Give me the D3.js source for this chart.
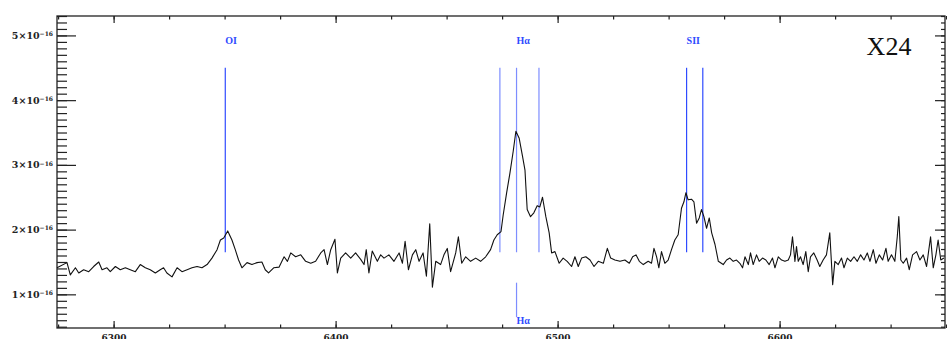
<!DOCTYPE html>
<html>
<head>
<meta charset="utf-8">
<script src="https://cdn.jsdelivr.net/npm/d3@7/dist/d3.min.js"></script>
<style>
  body { margin: 0; background: #fff; }
  svg { display: block; }
  .yLab { font-family: 'DejaVu Serif', serif; font-size: 9.5px; font-weight: bold; fill: #222; }
  .xAxis text { font-family: 'DejaVu Serif', serif; font-size: 9px; font-weight: bold; fill: #222; }
  .lineLabel { font-family: 'Liberation Serif', serif; font-size: 10px; font-weight: bold; }
  .objLabel { font-family: 'Liberation Serif', 'Times New Roman', serif; font-size: 26px; fill: #111; }
</style>
</head>
<body>
<div id="spectrum-chart"></div>
<script>
/* global d3 */

// wavelength (A), flux (units of 1e-16)
const spectrum = [
  [6274.5, 1.41], [6279.0, 1.49], [6280.5, 1.30], [6282.8, 1.41], [6284.3, 1.33], [6286.5, 1.38],
  [6288.8, 1.35], [6291.0, 1.43], [6293.3, 1.50], [6294.8, 1.38], [6297.0, 1.41], [6298.5, 1.35],
  [6300.8, 1.43], [6303.0, 1.38], [6305.3, 1.41], [6307.5, 1.38], [6309.8, 1.35], [6312.0, 1.46],
  [6314.3, 1.41], [6316.5, 1.38], [6318.8, 1.33], [6321.0, 1.38], [6322.5, 1.41], [6324.0, 1.33],
  [6326.3, 1.27], [6328.6, 1.41], [6330.8, 1.35], [6333.1, 1.38], [6335.3, 1.41], [6337.6, 1.43],
  [6339.8, 1.41], [6342.1, 1.46], [6344.3, 1.56], [6346.6, 1.69], [6348.1, 1.84], [6349.6, 1.87],
  [6351.4, 1.98], [6353.3, 1.84], [6354.8, 1.69], [6356.3, 1.53], [6357.8, 1.41], [6360.1, 1.49],
  [6362.3, 1.46], [6364.6, 1.49], [6366.8, 1.50], [6368.3, 1.38], [6369.8, 1.33], [6372.1, 1.41],
  [6374.5, 1.42], [6376.8, 1.58], [6378.3, 1.51], [6379.8, 1.64], [6382.0, 1.58], [6384.3, 1.61],
  [6386.5, 1.51], [6388.8, 1.48], [6391.0, 1.51], [6393.3, 1.64], [6394.8, 1.69], [6396.3, 1.46],
  [6397.8, 1.69], [6399.7, 1.85], [6400.8, 1.33], [6402.3, 1.56], [6404.5, 1.64], [6406.8, 1.56],
  [6409.0, 1.64], [6411.3, 1.54], [6412.8, 1.46], [6413.8, 1.69], [6415.0, 1.33], [6416.5, 1.67],
  [6418.8, 1.51], [6420.3, 1.61], [6421.8, 1.56], [6424.0, 1.61], [6426.3, 1.51], [6428.6, 1.64],
  [6430.1, 1.48], [6431.3, 1.82], [6432.8, 1.38], [6434.6, 1.61], [6436.1, 1.69], [6437.6, 1.51],
  [6439.4, 1.64], [6440.9, 1.28], [6442.4, 2.09], [6443.6, 1.11], [6445.1, 1.51], [6447.3, 1.46],
  [6448.8, 1.61], [6450.3, 1.71], [6451.8, 1.35], [6454.1, 1.64], [6455.3, 1.89], [6456.8, 1.48],
  [6458.6, 1.58], [6460.8, 1.51], [6463.1, 1.56], [6465.3, 1.51], [6467.6, 1.58], [6469.8, 1.69],
  [6471.3, 1.84], [6472.8, 1.92], [6474.5, 1.97], [6475.5, 2.23], [6477.0, 2.56], [6478.5, 2.87],
  [6480.0, 3.21], [6481.2, 3.52], [6482.7, 3.41], [6484.2, 3.13], [6485.3, 2.92], [6485.7, 2.67],
  [6486.3, 2.31], [6487.8, 2.20], [6489.3, 2.26], [6490.8, 2.37], [6492.0, 2.35], [6493.2, 2.50],
  [6494.7, 2.20], [6496.2, 1.95], [6497.3, 1.64], [6498.8, 1.66], [6500.7, 1.48], [6502.5, 1.56],
  [6504.3, 1.51], [6506.3, 1.43], [6507.8, 1.58], [6509.3, 1.43], [6510.8, 1.56], [6512.7, 1.58],
  [6514.6, 1.53], [6516.4, 1.43], [6518.3, 1.51], [6520.6, 1.48], [6522.4, 1.71], [6523.9, 1.56],
  [6525.8, 1.53], [6528.1, 1.51], [6530.3, 1.53], [6532.3, 1.48], [6533.8, 1.58], [6535.3, 1.61],
  [6536.8, 1.51], [6538.6, 1.46], [6540.8, 1.51], [6542.3, 1.48], [6543.4, 1.71], [6544.6, 1.58],
  [6545.6, 1.41], [6546.8, 1.66], [6548.3, 1.48], [6549.8, 1.53], [6551.3, 1.69], [6552.8, 1.84],
  [6554.3, 1.92], [6555.8, 2.33], [6556.9, 2.43], [6557.8, 2.57], [6558.8, 2.46], [6560.3, 2.47],
  [6561.4, 2.43], [6562.6, 2.10], [6563.8, 2.18], [6564.8, 2.31], [6565.9, 2.20], [6567.1, 2.02],
  [6568.3, 2.18], [6569.4, 1.95], [6570.9, 1.77], [6572.4, 1.51], [6574.6, 1.46], [6576.1, 1.53],
  [6577.6, 1.56], [6579.1, 1.51], [6580.6, 1.53], [6582.1, 1.48], [6583.3, 1.41], [6584.4, 1.58],
  [6585.9, 1.46], [6586.9, 1.64], [6588.1, 1.46], [6589.6, 1.61], [6590.8, 1.51], [6592.3, 1.56],
  [6593.8, 1.53], [6595.3, 1.46], [6596.8, 1.56], [6597.9, 1.41], [6599.4, 1.58], [6600.9, 1.53],
  [6602.4, 1.51], [6603.9, 1.53], [6604.9, 1.61], [6605.8, 1.89], [6606.9, 1.51], [6607.6, 1.74],
  [6608.4, 1.51], [6609.4, 1.58], [6610.6, 1.46], [6611.8, 1.66], [6612.9, 1.35], [6613.9, 1.58],
  [6615.4, 1.64], [6616.9, 1.53], [6618.1, 1.43], [6619.6, 1.53], [6621.1, 1.61], [6622.6, 1.95],
  [6623.9, 1.15], [6624.9, 1.51], [6626.4, 1.46], [6627.9, 1.56], [6629.0, 1.41], [6630.5, 1.56],
  [6632.0, 1.51], [6633.5, 1.58], [6635.0, 1.51], [6636.5, 1.61], [6638.0, 1.53], [6639.5, 1.64],
  [6640.7, 1.51], [6642.2, 1.69], [6643.4, 1.48], [6644.9, 1.61], [6646.4, 1.53], [6647.9, 1.71],
  [6648.9, 1.51], [6650.4, 1.61], [6651.9, 1.51], [6653.0, 1.89], [6653.7, 2.20], [6654.6, 1.53],
  [6655.7, 1.48], [6657.2, 1.56], [6658.4, 1.38], [6659.9, 1.61], [6661.7, 1.66], [6663.2, 1.53],
  [6664.7, 1.61], [6666.2, 1.43], [6668.0, 1.89], [6669.2, 1.41], [6670.4, 1.61], [6671.4, 1.84],
  [6672.6, 1.53], [6674.0, 1.56]
];

const lineNames = ['OI', 'H\u03b1', 'SII'];
const lineWaves = [[6350.3], [6474.0, 6481.5, 6491.6], [6558.1, 6565.4]];
const labelWaves = [6350.3, 6481.5, 6558.1];
const xTickValues = [6300, 6400, 6500, 6600];
const yTickValues = [1, 2, 3, 4, 5];
const objectName = 'X24';

const width = 947;
const height = 339;
const frame = { left: 57, right: 945, top: 16, bottom: 328 };

const svg = d3.select('#spectrum-chart').append('svg')
  .attr('width', width)
  .attr('height', height);

const xScale = d3.scaleLinear()
  .domain([6274.5, 6674.5])
  .range([frame.left, frame.right]);

const yScale = d3.scaleLinear()
  .domain([0.48, 5.30])
  .range([frame.bottom, frame.top]);

const xMinor = d3.range(6275, 6676, 25);
const yMinor = d3.range(0.5, 5.31, 0.1);

function styleAxis(g) {
  g.select('.domain').remove();
  g.selectAll('.tick line').attr('stroke', '#222').attr('stroke-width', 1.2);
}

// left axis
svg.append('g')
  .attr('transform', `translate(${frame.left},0)`)
  .call(d3.axisLeft(yScale).tickValues(yMinor).tickSizeInner(-10).tickSizeOuter(0).tickFormat(''))
  .call(styleAxis);

const yMajor = svg.append('g')
  .attr('transform', `translate(${frame.left},0)`)
  .call(d3.axisLeft(yScale).tickValues(yTickValues).tickSizeInner(-19).tickSizeOuter(0).tickPadding(4))
  .call(styleAxis);

yMajor.selectAll('.tick text').each(function (d) {
  const t = d3.select(this).text(null).attr('class', 'yLab').attr('font-family', null).attr('font-size', null);
  t.append('tspan').text(`${d}\u00d710`);
  t.append('tspan').attr('dy', '-0.45em').attr('font-size', '6px').text('\u221216');
});

// right axis
svg.append('g')
  .attr('transform', `translate(${frame.right},0)`)
  .call(d3.axisRight(yScale).tickValues(yMinor).tickSizeInner(-4).tickSizeOuter(0).tickFormat(''))
  .call(styleAxis);

svg.append('g')
  .attr('transform', `translate(${frame.right},0)`)
  .call(d3.axisRight(yScale).tickValues(yTickValues).tickSizeInner(-10).tickSizeOuter(0).tickFormat(''))
  .call(styleAxis);

// top axis
svg.append('g')
  .attr('transform', `translate(0,${frame.top})`)
  .call(d3.axisTop(xScale).tickValues(xMinor).tickSizeInner(-3.5).tickSizeOuter(0).tickFormat(''))
  .call(styleAxis);

svg.append('g')
  .attr('transform', `translate(0,${frame.top})`)
  .call(d3.axisTop(xScale).tickValues(xTickValues).tickSizeInner(-7).tickSizeOuter(0).tickFormat(''))
  .call(styleAxis);

// bottom axis
svg.append('g')
  .attr('transform', `translate(0,${frame.bottom})`)
  .call(d3.axisBottom(xScale).tickValues(xMinor).tickSizeInner(-3.5).tickSizeOuter(0).tickFormat(''))
  .call(styleAxis);

svg.append('g')
  .attr('class', 'xAxis')
  .attr('transform', `translate(0,${frame.bottom})`)
  .call(d3.axisBottom(xScale).tickValues(xTickValues).tickSizeInner(-7).tickSizeOuter(0).tickPadding(7).tickFormat(d3.format('d')))
  .call(styleAxis)
  .call((g) => g.selectAll('text').attr('font-family', null).attr('font-size', null));

// frame
svg.append('rect')
  .attr('x', frame.left)
  .attr('y', frame.top)
  .attr('width', frame.right - frame.left)
  .attr('height', frame.bottom - frame.top)
  .style('fill', 'none')
  .style('stroke', '#222')
  .style('stroke-width', 1.3);

// emission line markers
const markerColors = ['#2f4bff', '#7d8dff', '#2f4bff'];
const markerGroup = svg.append('g').attr('class', 'markers');

lineWaves.forEach((waves, i) => {
  waves.forEach((w) => {
    markerGroup.append('line')
      .attr('x1', xScale(w))
      .attr('x2', xScale(w))
      .attr('y1', yScale(4.50))
      .attr('y2', yScale(1.65))
      .style('stroke', markerColors[i])
      .style('stroke-width', 1.2);
  });
  markerGroup.append('text')
    .attr('class', 'lineLabel')
    .attr('x', xScale(labelWaves[i]))
    .attr('y', yScale(4.87))
    .style('fill', '#2f4bff')
    .text(lineNames[i]);
});

// H-alpha marker below the spectrum
const haWave = labelWaves[1];
markerGroup.append('line')
  .attr('x1', xScale(haWave))
  .attr('x2', xScale(haWave))
  .attr('y1', yScale(1.18))
  .attr('y2', yScale(0.65))
  .style('stroke', '#7d8dff')
  .style('stroke-width', 1.2);

markerGroup.append('text')
  .attr('class', 'lineLabel')
  .attr('x', xScale(haWave))
  .attr('y', yScale(0.54))
  .style('fill', '#2f4bff')
  .text(lineNames[1]);

// spectrum
const specLine = d3.line()
  .x((d) => xScale(d[0]))
  .y((d) => yScale(d[1]));

svg.append('path')
  .datum(spectrum)
  .attr('d', specLine)
  .style('fill', 'none')
  .style('stroke', '#111')
  .style('stroke-width', 1.1)
  .style('stroke-linejoin', 'round');

// object label
svg.append('text')
  .attr('class', 'objLabel')
  .attr('x', 889)
  .attr('y', 55)
  .attr('text-anchor', 'middle')
  .text(objectName);
</script>
</body>
</html>
